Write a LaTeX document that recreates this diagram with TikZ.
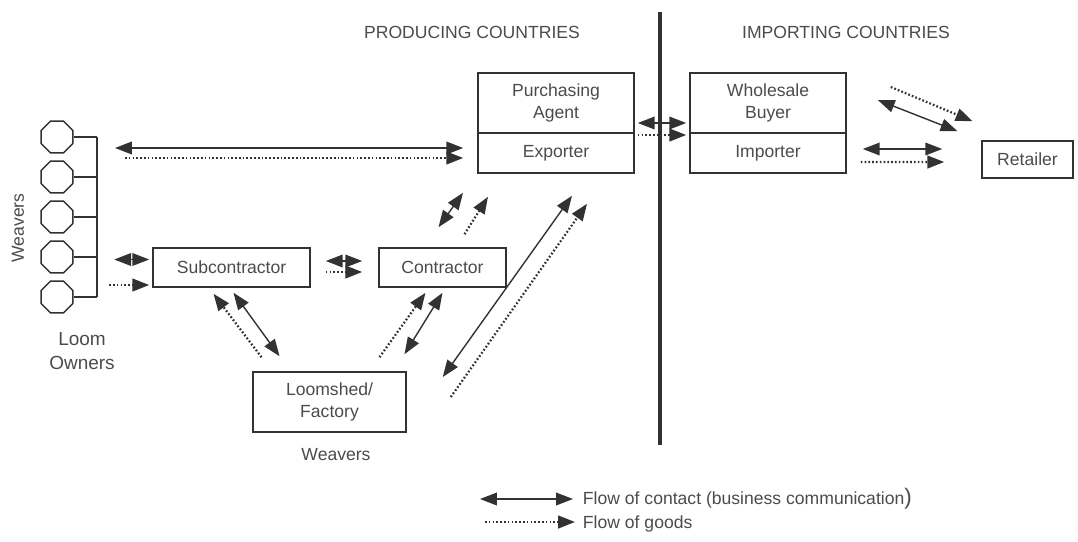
\documentclass[tikz,border=0pt]{standalone}
\usepackage{fontspec}
\setmainfont{Liberation Sans}
\usetikzlibrary{arrows.meta,shapes.geometric,calc}
\definecolor{ink}{RGB}{50,50,50}
\definecolor{txt}{RGB}{75,75,75}

\begin{document}
\begin{tikzpicture}[x=0.025cm, y=-0.025cm,
    box/.style={draw=ink, line width=1.1pt, inner sep=0pt, text=txt, align=center,
      font=\fontsize{12.5}{16}\selectfont},
    lbl/.style={text=txt, align=center, font=\fontsize{12.5}{16}\selectfont},
    loom/.style={draw=ink, line width=1pt, regular polygon, regular polygon sides=8,
      minimum size=0.86cm, inner sep=0pt},
    contact/.style={ink, line width=1pt,
      {Triangle[length=12pt,width=9pt]}-{Triangle[length=12pt,width=9pt]}},
    goods/.style={ink, line width=1.6pt, dash pattern=on 1.2pt off 1.5pt,
      -{Triangle[length=12pt,width=9pt]}}]
        \useasboundingbox (0,0) rectangle (1078,541);
        % Headings and border between the two sides
        \node[lbl] (prod) at (472,32) {PRODUCING COUNTRIES};
        \node[lbl] (imp) at (846,32) {IMPORTING COUNTRIES};
        \coordinate (divtop) at (660,12);
        \coordinate (divbot) at (660,445);
        \draw[ink, line width=2.2pt] (divtop) -- (divbot);
        % Loom owners with their weavers
        \foreach \i/\y in {1/137, 2/177, 3/217, 4/257, 5/297} {
          \node[loom] (w\i) at (57,\y) {};
          \draw[ink, line width=1pt] (w\i.east) -- (97,\y);
        }
        \coordinate (bartop) at (97,137);
        \coordinate (barbot) at (97,297);
        \draw[ink, line width=1pt] (bartop) -- (barbot);
        \node[lbl, rotate=90] (weav) at (18,228) {Weavers};
        \node[lbl, font=\fontsize{13.5}{17}\selectfont] (owners) at (82,351) {Loom\\Owners};
        % Boxes, producing side
        \node[box, minimum width=3.9cm, minimum height=1.5cm] (pa) at (556,103) {Purchasing\\Agent};
        \node[box, minimum width=3.9cm, minimum height=1cm] (exp) at (556,153) {Exporter};
        \node[box, minimum width=3.925cm, minimum height=0.975cm] (sub) at (231.5,267.5) {Subcontractor};
        \node[box, minimum width=3.175cm, minimum height=0.975cm] (con) at (442.5,267.5) {Contractor};
        \node[box, minimum width=3.825cm, minimum height=1.5cm] (shed) at (329.5,402) {Loomshed/\\Factory};
        \node[lbl] (shedw) at (336,455) {Weavers};
        % Boxes, importing side
        \node[box, minimum width=3.9cm, minimum height=1.5cm] (wb) at (768,103) {Wholesale\\Buyer};
        \node[box, minimum width=3.9cm, minimum height=1cm] (impo) at (768,153) {Importer};
        \node[box, minimum width=2.275cm, minimum height=0.925cm] (ret) at (1027.5,159.5) {Retailer};
        % Loom owners <-> exporter
        \draw[contact] ($(bartop)+(18,11)$) -- ($(exp.west)+(-14,-5)$);
        \draw[goods] ($(bartop)+(28,21)$) -- ($(exp.west)+(-14,5)$);
        % Loom owners <-> subcontractor
        \draw[contact] ($(sub.west)+(-38,-8)$) -- ($(sub.west)+(-3,-8)$);
        \draw[goods] ($(sub.west)+(-43,17.5)$) -- ($(sub.west)+(-3,17.5)$);
        % Subcontractor <-> contractor
        \draw[contact] ($(sub.east)+(15,-6.5)$) -- ($(con.west)+(-16,-6.5)$);
        \draw[goods] ($(sub.east)+(15,4.5)$) -- ($(con.west)+(-16,4.5)$);
        % Loomshed <-> subcontractor
        \draw[contact] ($(sub.south)+(2,5)$) -- ($(shed.north)+(-50,-15)$);
        \draw[goods] ($(shed.north)+(-68,-14)$) -- ($(sub.south)+(-18,6)$);
        % Loomshed <-> contractor
        \draw[goods] ($(shed.north)+(50,-14)$) -- ($(con.south)+(-17,5)$);
        \draw[contact] ($(shed.north)+(75,-17)$) -- ($(con.south)+(0,5)$);
        % Contractor <-> exporter
        \draw[contact] ($(con.north)+(-4,-20)$) -- ($(exp.south)+(-93,19)$);
        \draw[goods] ($(con.north)+(22,-13)$) -- ($(exp.south)+(-68,23)$);
        % Loomshed <-> exporter
        \draw[contact] ($(shed.east)+(36,-25)$) -- ($(exp.south)+(16,22)$);
        \draw[goods] ($(shed.east)+(44,-5)$) -- ($(exp.south)+(31,30)$);
        % Across the border
        \draw[contact] ($(pa.east)+(3,20)$) -- ($(wb.west)+(-3,20)$);
        \draw[goods] ($(exp.east)+(3,-18)$) -- ($(impo.west)+(-3,-18)$);
        % Importer / wholesale buyer <-> retailer
        \draw[contact] ($(impo.east)+(16,-4)$) -- ($(ret.west)+(-39,-10.5)$);
        \draw[goods] ($(impo.east)+(14,9)$) -- ($(ret.west)+(-37,2.5)$);
        \draw[contact] ($(wb.east)+(31,-3)$) -- ($(ret.north)+(-70,-9)$);
        \draw[goods] ($(wb.east)+(44,-16)$) -- ($(ret.north)+(-55,-19)$);
        % Legend
        \node[lbl, anchor=west] (legc) at (578,499) {Flow of contact (business communication{\fontsize{16}{16}\selectfont)}};
        \node[lbl, anchor=west] (legg) at (578,524) {Flow of goods};
        \draw[contact] ($(legc.west)+(-98,0)$) -- ($(legc.west)+(-5,0)$);
        \draw[goods] ($(legg.west)+(-93,-2)$) -- ($(legg.west)+(-3,-2)$);
\end{tikzpicture}
\end{document}
